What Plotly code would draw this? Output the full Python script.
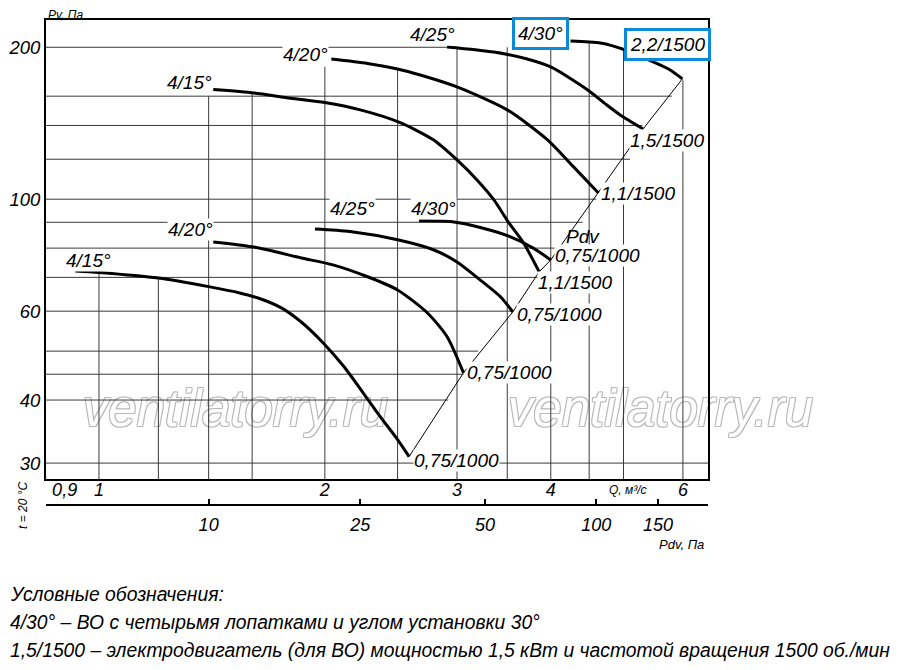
import numpy as np
import plotly.graph_objects as go

# --- curve data: Q (m3/s) and Pv (Pa) ---
# 1500 rpm group (upper)
u15_q = [1.42, 1.61, 1.80, 2.00, 2.23, 2.52, 2.79, 3.00, 3.19, 3.36, 3.51, 3.68, 3.86]
u15_p = [165, 162.4, 158.5, 155.4, 150.3, 141.8, 131.1, 119.6, 109.2, 99.7, 90.2, 81.9, 71.8]
u20_q = [2.04, 2.28, 2.50, 2.68, 3.00, 3.50, 3.96, 4.29, 4.63]
u20_p = [189.6, 185.8, 181.1, 176.2, 166.9, 150.3, 131.1, 115.9, 102.9]
u25_q = [2.91, 3.36, 3.72, 4.00, 4.48, 4.73, 4.95, 5.31]
u25_p = [200.3, 195.7, 189.6, 182.8, 164.6, 154.5, 146.9, 137.8]
u30_q = [4.25, 4.66, 5.03, 5.48, 5.77, 5.99]
u30_p = [205.8, 203.9, 197.5, 187.0, 180.3, 173.1]
# 1000 rpm group (lower)
l15_q = [0.93, 1.00, 1.20, 1.40, 1.54, 1.64, 1.75, 1.86, 1.99, 2.12, 2.25, 2.37, 2.50, 2.59]
l15_p = [72.1, 71.6, 69.8, 67.1, 65.2, 63.5, 60.9, 57.1, 51.9, 46.6, 41.3, 37.1, 33.4, 30.9]
l20_q = [1.42, 1.61, 1.86, 2.05, 2.28, 2.50, 2.74, 2.91, 3.06]
l20_p = [82.3, 80.4, 76.5, 74.1, 70.2, 66.1, 59.5, 53.4, 45.3]
l25_q = [1.94, 2.16, 2.50, 2.79, 3.00, 3.22, 3.43, 3.56]
l25_p = [87.3, 86.3, 83.1, 79.4, 75.1, 69.2, 64.0, 59.8]
l30_q = [2.67, 2.94, 3.25, 3.53, 3.79, 4.00]
l30_p = [90.6, 90.3, 87.6, 84.3, 80.0, 75.8]

angle_labels = ["4/15°", "4/20°", "4/25°", "4/30°"]
upper_motor = ["1,1/1500", "1,1/1500", "1,5/1500", "2,2/1500"]
lower_motor = ["0,75/1000", "0,75/1000", "0,75/1000", "0,75/1000"]

# axis ticks
q_ticks = [0.9, 1, 2, 3, 4, 6]
q_ticktext = ["0,9", "1", "2", "3", "4", "6"]
p_ticks = [30, 40, 60, 100, 200]
pdv_ticktext = ["10", "25", "50", "100", "150"]
pdv_at_q = [1.40, 2.23, 3.27, 4.60, 5.56]

# grid (drawn only under the curve envelope, like the original)
grid_q = [1, 1.2, 1.4, 1.6, 2, 2.5, 3, 3.5, 4, 4.5, 5, 6]
grid_q_top = [71.6, 69.8, 160, 162.4, 183, 181, 199, 200, 202, 204, 197.5, 172]
grid_p = [30, 40, 45, 50, 60, 70, 80, 90, 100, 120, 140, 160, 200]
grid_p_end = [6.48, 2.92, 3.06, 3.2, 3.56, 3.85, 4.1, 4.41, 4.6, 5.1, 5.3, 5.8, 2.91]

# watermark anchors (Q, Pv)
wm_q = [1.52, 5.6]
wm_p = [37.6, 37.6]

QMIN, QMAX = 0.85, 6.48
PMIN, PMAX = 27.9, 226.5

FONT = "Liberation Sans, Arial, sans-serif"
OFF = 8  # page body margin
W, H = 900 - OFF, 670 - OFF
ML, MT = 46 - OFF, 20 - OFF
MR, MB = W - (708 - OFF), H - (505 - OFF)
PW, PH = W - ML - MR, H - MT - MB


def paper(xp, yp):
    # page pixel -> paper coords
    return (xp - OFF - ML) / PW, (H - MB - (yp - OFF)) / PH


fig = go.Figure()

# watermark under everything
fig.add_trace(go.Scatter(
    x=wm_q, y=wm_p, mode="text", text=["ventilatorry.ru"] * 2, cliponaxis=False,
    textfont=dict(family=FONT, size=51, color="white", style="italic",
                  shadow="-1px -1px 0 #b8b8b8, 1px -1px 0 #b8b8b8, "
                         "-1px 1px 0 #b8b8b8, 1px 1px 0 #b8b8b8"),
    hoverinfo="skip", showlegend=False))

# grid
gx, gy = [], []
for q, top in zip(grid_q, grid_q_top):
    gx += [q, q, None]
    gy += [PMIN, top, None]
for p, end in zip(grid_p, grid_p_end):
    gx += [QMIN, end, None]
    gy += [p, p, None]
fig.add_trace(go.Scatter(x=gx, y=gy, mode="lines", line=dict(color="#3a3a3a", width=1),
                         hoverinfo="skip", showlegend=False))

upper = [(u15_q, u15_p), (u20_q, u20_p), (u25_q, u25_p), (u30_q, u30_p)]
lower = [(l15_q, l15_p), (l20_q, l20_p), (l25_q, l25_p), (l30_q, l30_p)]

# Pdv line through curve ends
ends = sorted([(q[-1], p[-1]) for q, p in upper + lower])
fig.add_trace(go.Scatter(x=[e[0] for e in ends], y=[e[1] for e in ends], mode="lines",
                         line=dict(color="black", width=1), hoverinfo="skip", showlegend=False))

for q, p in upper + lower:
    fig.add_trace(go.Scatter(x=q, y=p, mode="lines",
                             line=dict(color="black", width=3, shape="spline", smoothing=0.7),
                             showlegend=False))

# dummy trace for the Pdv axis
fig.add_trace(go.Scatter(x=pdv_at_q, y=[50] * len(pdv_at_q), xaxis="x2", mode="markers",
                         marker=dict(opacity=0), hoverinfo="skip", showlegend=False))

lab_font = dict(family=FONT, size=19, color="black", style="italic")


def label(text, q, p, dx, dy, box=False, bg="white"):
    a = dict(text=text, x=np.log10(q), y=np.log10(p), xref="x", yref="y",
             xshift=dx, yshift=dy, showarrow=False, font=lab_font,
             bgcolor=bg, borderpad=0)
    if box:
        a.update(bordercolor="#0b8ad9", borderwidth=3, borderpad=3)
    fig.add_annotation(**a)


# start labels (angle)
up_start_shift = [(-24, 7), (-26, 4), (-15, 12), (-30, 8)]
lo_start_shift = [(13, 10), (-23, 12), (38, 20), (14, 12)]
for i, (q, p) in enumerate(upper):
    label(angle_labels[i], q[0], p[0], *up_start_shift[i], box=(i == 3))
for i, (q, p) in enumerate(lower):
    label(angle_labels[i], q[0], p[0], *lo_start_shift[i])

# end labels (motor)
up_end_shift = [(36, -11), (40, -1), (24, -12), (-15, 34)]
lo_end_shift = [(47, -4), (46, 0), (47, -3), (47, 4)]
for i, (q, p) in enumerate(upper):
    label(upper_motor[i], q[-1], p[-1], *up_end_shift[i], box=(i == 3))
for i, (q, p) in enumerate(lower):
    label(lower_motor[i], q[-1], p[-1], *lo_end_shift[i])

label("Pdv", 4.41, 84.5, 0, 0, bg="rgba(0,0,0,0)")

small = dict(family=FONT, size=12, color="black", style="italic")


def text_px(text, xp, yp, font, xanchor="center", angle=0, **kw):
    px_, py_ = paper(xp, yp)
    fig.add_annotation(text=text, x=px_, y=py_, xref="paper", yref="paper",
                       xanchor=xanchor, yanchor="middle", showarrow=False,
                       font=font, textangle=angle, **kw)


text_px("Pv, Па", 65, 15, small)
text_px("Q, м³/с", 628, 490, small)
text_px("Pdv, Па", 681, 544, dict(small, size=13))
text_px("t = 20 °C", 23, 506, small, angle=-90)

note = dict(family=FONT, size=19.3, color="black", style="italic")
text_px("Условные обозначения:", 8, 594, note, xanchor="left")
text_px("4/30° – ВО с четырьмя лопатками и углом установки 30°", 8, 622, note, xanchor="left")
text_px("1,5/1500 – электродвигатель (для ВО) мощностью 1,5 кВт и частотой вращения 1500 об./мин",
        8, 650, note, xanchor="left")

tick_font = dict(family=FONT, size=18, color="black", style="italic")

fig.update_layout(
    width=W, height=H,
    margin=dict(l=ML, r=MR, t=MT, b=MB),
    plot_bgcolor="white", paper_bgcolor="white",
    xaxis=dict(type="log", range=[np.log10(QMIN), np.log10(QMAX)], showgrid=False,
               zeroline=False, showline=True, mirror=True, linecolor="black", linewidth=2,
               tickvals=q_ticks, ticktext=q_ticktext, ticks="", tickfont=tick_font,
               ticklabelstandoff=-7, anchor="y", automargin=False),
    xaxis2=dict(type="log", range=[np.log10(QMIN), np.log10(QMAX)], overlaying="x",
                anchor="free", position=0, showgrid=False, zeroline=False, showline=True,
                linecolor="black", linewidth=2, tickvals=pdv_at_q, ticktext=pdv_ticktext,
                ticks="inside", ticklen=5, tickwidth=1.5, tickcolor="black",
                tickfont=tick_font, ticklabelstandoff=3, automargin=False),
    yaxis=dict(type="log", range=[np.log10(PMIN), np.log10(PMAX)], domain=[26 / PH, 1],
               showgrid=False, zeroline=False, showline=True, mirror=True,
               linecolor="black", linewidth=2, tickvals=p_ticks,
               ticktext=[str(v) for v in p_ticks], ticks="", ticklabelstandoff=0,
               tickfont=dict(tick_font, size=18.5), automargin=False),
)

fig.write_html("out.html")
